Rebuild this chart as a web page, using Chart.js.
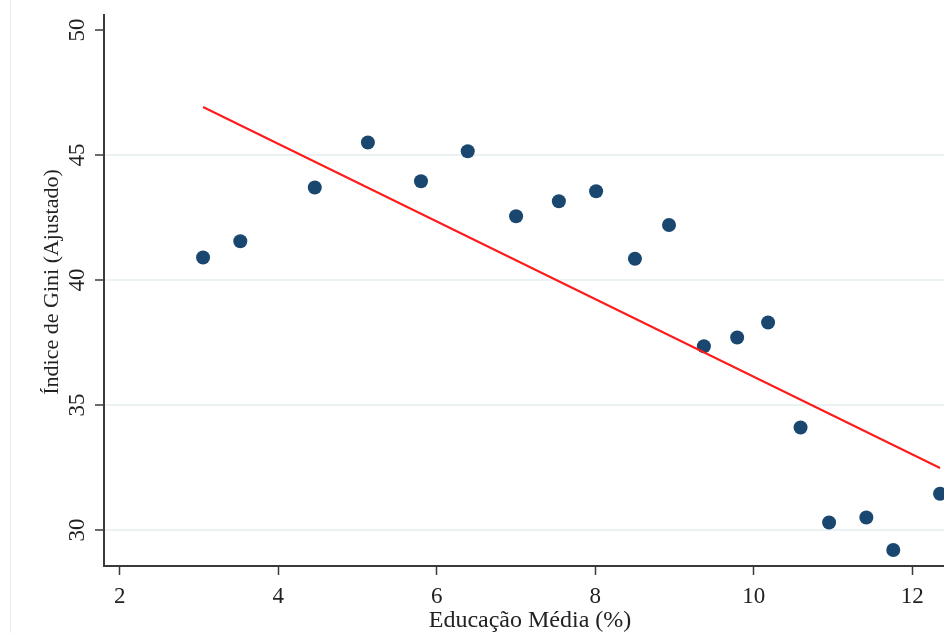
<!DOCTYPE html>
<html>
<head>
<meta charset="utf-8">
<script src="https://cdn.jsdelivr.net/npm/chart.js@4/dist/chart.umd.min.js"></script>
<style>
  html, body { margin: 0; padding: 0; background: #fff; }
  #wrap { width: 944px; height: 633px; position: relative; }
</style>
</head>
<body>
<div id="wrap"><canvas id="chart" width="944" height="633"></canvas></div>
<script>
// education (x) vs adjusted Gini (y)
const educacao = [3.05, 3.52, 4.46, 5.13, 5.80, 6.39, 7.00, 7.54, 8.01, 8.50,
  8.93, 9.37, 9.79, 10.18, 10.59, 10.95, 11.42, 11.76, 12.35];
const gini = [40.9, 41.55, 43.7, 45.5, 43.95, 45.15, 42.55, 43.15, 43.55, 40.85,
  42.2, 37.35, 37.7, 38.3, 34.1, 30.3, 30.5, 29.2, 31.45];
// fitted line end points
const fitX = [3.05, 12.35];
const fitY = [46.92, 32.48];
const xTicks = [2, 4, 6, 8, 10, 12];
const yTicks = [30, 35, 40, 45, 50];

const serif = '"Liberation Serif", "Times New Roman", serif';
const axisColor = '#3a3a3a';

const pts = educacao.map((x, i) => ({ x: x, y: gini[i] }));
const fit = fitX.map((x, i) => ({ x: x, y: fitY[i] }));

// y tick labels are rotated in the original, so draw them by hand
const extras = {
  id: 'extras',
  beforeDraw(chart) {
    const c = chart.ctx;
    c.save();
    c.strokeStyle = '#e6eef0';
    c.lineWidth = 1;
    c.beginPath();
    c.moveTo(10.5, 0);
    c.lineTo(10.5, 633);
    c.stroke();
    c.restore();
  },
  afterDraw(chart) {
    const c = chart.ctx;
    const ys = chart.scales.y;
    c.save();
    c.fillStyle = '#222';
    c.font = '23px ' + serif;
    c.textAlign = 'center';
    c.textBaseline = 'middle';
    yTicks.forEach(v => {
      c.save();
      c.translate(78, ys.getPixelForValue(v));
      c.rotate(-Math.PI / 2);
      c.fillText(String(v), 0, 0);
      c.restore();
    });
    c.font = '22px ' + serif;
    c.save();
    c.translate(52, 282);
    c.rotate(-Math.PI / 2);
    c.fillText('Índice de Gini (Ajustado)', 0, 0);
    c.restore();
    c.font = '24px ' + serif;
    c.fillText('Educação Média (%)', 530, 621);
    c.restore();
  }
};

new Chart(document.getElementById('chart'), {
  type: 'scatter',
  data: {
    datasets: [{
      data: pts,
      backgroundColor: '#1a476f',
      borderColor: '#1a476f',
      pointRadius: 7,
      pointHoverRadius: 7,
      borderWidth: 0,
      order: 2
    }, {
      type: 'line',
      data: fit,
      borderColor: '#ff1a1a',
      borderWidth: 2,
      pointRadius: 0,
      fill: false,
      order: 1
    }]
  },
  options: {
    responsive: false,
    animation: false,
    events: [],
    layout: { autoPadding: false, padding: { top: 15, right: 0, left: 0, bottom: 0 } },
    plugins: { legend: { display: false }, tooltip: { enabled: false } },
    scales: {
      x: {
        type: 'linear',
        min: 1.8,
        max: 12.4,
        afterBuildTicks: s => { s.ticks = xTicks.map(v => ({ value: v })); },
        afterFit: s => { s.height = 67; s.paddingLeft = 0; s.paddingRight = 0; },
        grid: { display: true, drawOnChartArea: false, drawTicks: true, tickLength: 9,
          color: axisColor, tickColor: axisColor, tickWidth: 1.5 },
        border: { display: true, color: axisColor, width: 2 },
        ticks: { color: '#222', font: { family: serif, size: 23 }, padding: 8, maxRotation: 0 }
      },
      y: {
        type: 'linear',
        min: 28.56,
        max: 50.6,
        afterBuildTicks: s => { s.ticks = yTicks.map(v => ({ value: v })); },
        afterFit: s => { s.width = 104; s.paddingTop = 0; s.paddingBottom = 0; },
        grid: {
          drawTicks: true,
          tickLength: 9,
          lineWidth: 2,
          color: ctx => (ctx.tick && ctx.tick.value === 50) ? 'rgba(0,0,0,0)' : '#eaf2f3',
          tickColor: axisColor,
          tickWidth: 1.5
        },
        border: { display: true, color: axisColor, width: 2 },
        ticks: { display: false }
      }
    }
  },
  plugins: [extras]
});
</script>
</body>
</html>
